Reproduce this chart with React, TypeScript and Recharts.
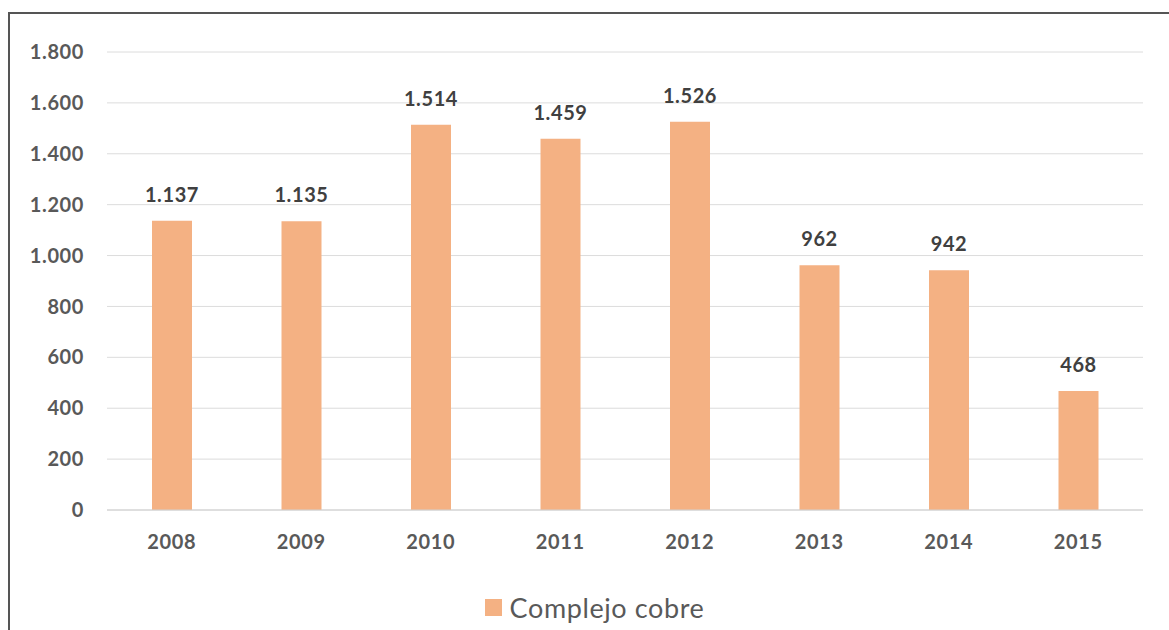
import { BarChart, Bar, XAxis, YAxis, CartesianGrid, Legend, LabelList } from 'recharts'

const years = ['2008', '2009', '2010', '2011', '2012', '2013', '2014', '2015']
const cobre = [1137, 1135, 1514, 1459, 1526, 962, 942, 468]
const yTicks = [0, 200, 400, 600, 800, 1000, 1200, 1400, 1600, 1800]

const BAR = '#F4B183'
const FONT = 'Lato, "Open Sans", sans-serif'

// miles con punto
const fmt = (v: number) => String(v).replace(/\B(?=(\d{3})+(?!\d))/g, '.')

const data = years.map((y, i) => ({ year: y, cobre: cobre[i] }))

const tickStyle = { fontSize: 20, fill: '#595959', fontFamily: FONT, fontWeight: 700, letterSpacing: 0.6 }

function LegendBox() {
  return (
    <div style={{ display: 'flex', justifyContent: 'center', alignItems: 'center', fontFamily: FONT, fontSize: 27, letterSpacing: 0.6, color: '#595959', height: 30, paddingLeft: 36 }}>
      <span style={{ width: 17, height: 17, background: BAR, marginRight: 8, display: 'inline-block' }} />
      <span>Complejo cobre</span>
    </div>
  )
}

export default function App() {
  return (
    <div style={{ position: 'absolute', left: 8, top: 12, width: 1161, height: 618, borderLeft: '2px solid #555', borderTop: '2px solid #555', background: '#fff' }}>
      <BarChart width={1159} height={616} data={data} margin={{ top: 38, right: 26, left: 0, bottom: 8 }}>
        <CartesianGrid vertical={false} stroke="#dcdcdc" />
        <XAxis
          dataKey="year"
          height={82}
          axisLine={{ stroke: '#d0d0d0' }}
          tickLine={false}
          tickSize={0}
          tickMargin={25}
          tick={tickStyle}
        />
        <YAxis
          width={97}
          domain={[0, 1800]}
          ticks={yTicks}
          tickFormatter={fmt}
          axisLine={false}
          tickLine={false}
          tickSize={0}
          tickMargin={23}
          tick={tickStyle}
        />
        <Legend verticalAlign="bottom" height={30} content={() => <LegendBox />} />
        <Bar dataKey="cobre" name="Complejo cobre" fill={BAR} barSize={40} isAnimationActive={false}>
          <LabelList dataKey="cobre" position="top" offset={19} formatter={(v: any) => fmt(Number(v))} style={{ fontSize: 20, fill: '#404040', fontFamily: FONT, fontWeight: 700, letterSpacing: 0.6 }} />
        </Bar>
      </BarChart>
    </div>
  )
}
